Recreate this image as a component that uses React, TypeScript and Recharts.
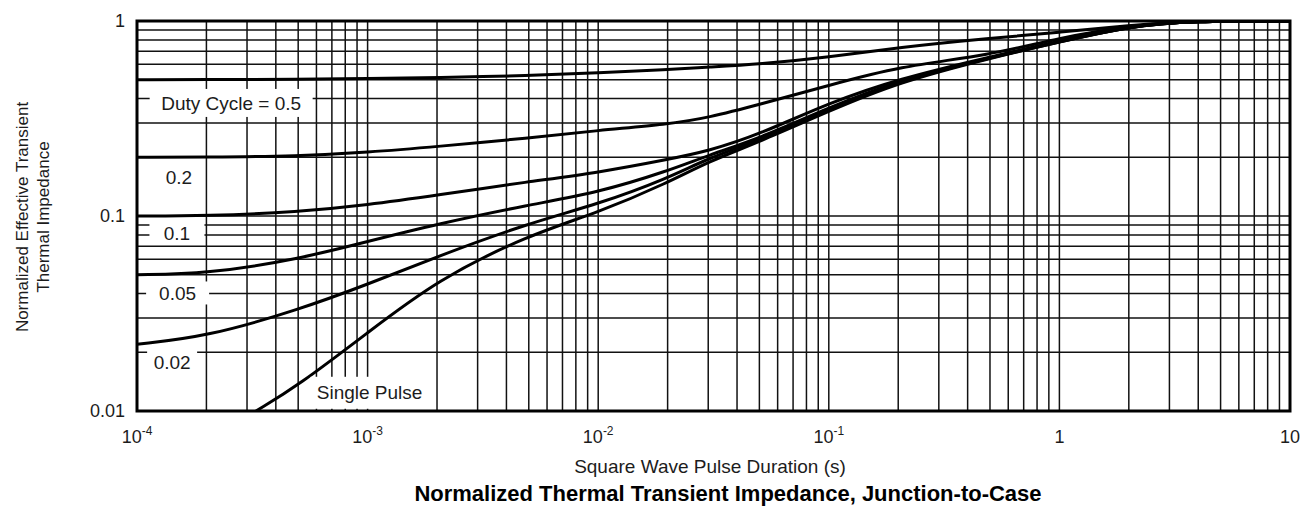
import { LineChart, Line, XAxis, YAxis, CartesianGrid, ReferenceArea, ReferenceDot } from 'recharts';

// pulse durations (s) where the duty-cycle curves were read
const T_DUTY = [1e-4, 2e-4, 5e-4, 1e-3, 2e-3, 5e-3, 1e-2, 2e-2, 3e-2, 5e-2, 1e-1, 2e-1, 5e-1, 1, 2, 3.8, 10];
const Z_D50 = [0.5, 0.5, 0.503, 0.507, 0.512, 0.525, 0.541, 0.564, 0.58, 0.6, 0.651, 0.732, 0.816, 0.875, 0.95, 1, 1];
const Z_D20 = [0.2, 0.2, 0.203, 0.212, 0.227, 0.251, 0.275, 0.295, 0.319, 0.373, 0.467, 0.584, 0.668, 0.82, 0.945, 1, 1];
const Z_D10 = [0.1, 0.1, 0.105, 0.114, 0.128, 0.15, 0.167, 0.195, 0.215, 0.262, 0.38, 0.505, 0.655, 0.79, 0.94, 1, 1];
const Z_D05 = [0.05, 0.0505, 0.06, 0.074, 0.091, 0.114, 0.132, 0.17, 0.205, 0.25, 0.36, 0.495, 0.65, 0.785, 0.94, 1, 1];
const Z_D02 = [0.022, 0.024, 0.033, 0.0446, 0.062, 0.092, 0.115, 0.156, 0.198, 0.245, 0.35, 0.49, 0.648, 0.78, 0.94, 1, 1];

const T_SINGLE = [3.28e-4, 5e-4, 1e-3, 2e-3, 5e-3, 1e-2, 2e-2, 3e-2, 5e-2, 1e-1, 2e-1, 5e-1, 1, 2, 3.8, 10];
const Z_SINGLE = [0.01, 0.0135, 0.0252, 0.047, 0.08, 0.104, 0.148, 0.19, 0.24, 0.345, 0.485, 0.645, 0.78, 0.94, 1, 1];

// log grid lines
const X_GRID = [
  1e-4, 2e-4, 3e-4, 4e-4, 5e-4, 6e-4, 7e-4, 8e-4, 9e-4,
  1e-3, 2e-3, 3e-3, 4e-3, 5e-3, 6e-3, 7e-3, 8e-3, 9e-3,
  1e-2, 2e-2, 3e-2, 4e-2, 5e-2, 6e-2, 7e-2, 8e-2, 9e-2,
  0.1, 0.2, 0.3, 0.4, 0.5, 0.6, 0.7, 0.8, 0.9,
  1, 2, 3, 4, 5, 6, 7, 8, 9, 10,
];
const Y_GRID = [
  0.01, 0.02, 0.03, 0.04, 0.05, 0.06, 0.07, 0.08, 0.09,
  0.1, 0.2, 0.3, 0.4, 0.5, 0.6, 0.7, 0.8, 0.9, 1,
];
const X_DECADES = [1e-4, 1e-3, 1e-2, 1e-1, 1, 10];
const X_BASES = ['10', '10', '10', '10', '1', '10'];
const X_EXPS = ['-4', '-3', '-2', '-1', '', ''];
const Y_DECADES = [0.01, 0.1, 1];
const Y_LABELS = ['0.01', '0.1', '1'];

const CURVE_LABELS = [
  { text: 'Duty Cycle = 0.5', t: 2.56e-4, z: 0.38, w: 163, h: 28 },
  { text: '0.2', t: 1.52e-4, z: 0.158, w: 46, h: 26 },
  { text: '0.1', t: 1.49e-4, z: 0.0818, w: 55, h: 22 },
  { text: '0.05', t: 1.5e-4, z: 0.0403, w: 63, h: 23 },
  { text: '0.02', t: 1.42e-4, z: 0.0178, w: 50, h: 26 },
  { text: 'Single Pulse', t: 1.02e-3, z: 0.0124, w: 118, h: 32 },
];

const FONT = '"Liberation Sans", Arial, Helvetica, sans-serif';
const INK = '#1c1c1c';

const toRows = (ts: number[], zs: number[]) => ts.map((t, i) => ({ t, z: zs[i] }));

const SERIES = [
  { name: 'D=0.5', data: toRows(T_DUTY, Z_D50) },
  { name: 'D=0.2', data: toRows(T_DUTY, Z_D20) },
  { name: 'D=0.1', data: toRows(T_DUTY, Z_D10) },
  { name: 'D=0.05', data: toRows(T_DUTY, Z_D05) },
  { name: 'D=0.02', data: toRows(T_DUTY, Z_D02) },
  { name: 'Single Pulse', data: toRows(T_SINGLE, Z_SINGLE) },
];

const findIdx = (list: number[], v: number) =>
  list.findIndex((d) => Math.abs(d - v) / d < 1e-6);

function XTick({ x, y, payload }: any) {
  const i = findIdx(X_DECADES, payload.value);
  if (i < 0) return <g />;
  return (
    <text x={x} y={y + 32} textAnchor="middle" fontFamily={FONT} fontSize={18} fill={INK}>
      <tspan>{X_BASES[i]}</tspan>
      {X_EXPS[i] && <tspan dy={-8} fontSize={12}>{X_EXPS[i]}</tspan>}
    </text>
  );
}

function YTick({ x, y, payload }: any) {
  const i = findIdx(Y_DECADES, payload.value);
  if (i < 0) return <g />;
  return (
    <text x={x} y={y} dy="0.35em" textAnchor="end" fontFamily={FONT} fontSize={18} fill={INK}>
      {Y_LABELS[i]}
    </text>
  );
}

function boxedLabel(text: string, w: number, h: number) {
  return (props: any) => {
    const vb = props.viewBox || {};
    const cx = vb.x + (vb.width || 0) / 2;
    const cy = vb.y + (vb.height || 0) / 2;
    return (
      <g>
        <rect x={cx - w / 2} y={cy - h / 2} width={w} height={h} fill="#fff" />
        <text x={cx} y={cy} dy="0.35em" textAnchor="middle" fontFamily={FONT} fontSize={19} fill={INK}>
          {text}
        </text>
      </g>
    );
  };
}

function YTitle() {
  return (
    <g fontFamily={FONT} fontSize={17} fill={INK}>
      <text transform="translate(22,217) rotate(-90)" textAnchor="middle" dy="0.35em">
        Normalized Effective Transient
      </text>
      <text transform="translate(43,217) rotate(-90)" textAnchor="middle" dy="0.35em">
        Thermal Impedance
      </text>
    </g>
  );
}

export default function App() {
  return (
    <div style={{ position: 'absolute', left: 0, top: 0, width: 1315, height: 506, background: '#fff' }}>
      <LineChart width={1315} height={506} margin={{ top: 21, right: 25, bottom: 0, left: 0 }}>
        <CartesianGrid stroke="#111" strokeWidth={1.5} horizontal vertical />
        <XAxis
          dataKey="t"
          type="number"
          scale="log"
          domain={[1e-4, 10]}
          ticks={X_GRID}
          interval={0}
          allowDataOverflow
          height={95}
          tickSize={0}
          tickMargin={0}
          axisLine={false}
          tickLine={false}
          tick={<XTick />}
        />
        <YAxis
          type="number"
          scale="log"
          domain={[0.01, 1]}
          ticks={Y_GRID}
          interval={0}
          allowDataOverflow
          width={137}
          tickSize={0}
          tickMargin={12}
          axisLine={false}
          tickLine={false}
          tick={<YTick />}
          label={{ content: () => <YTitle /> }}
        />
        {SERIES.map((s) => (
          <Line
            key={s.name}
            name={s.name}
            data={s.data}
            dataKey="z"
            type="basis"
            stroke="#000"
            strokeWidth={3}
            dot={false}
            activeDot={false}
            isAnimationActive={false}
          />
        ))}
        <ReferenceArea x1={1e-4} x2={10} y1={0.01} y2={1} fill="none" stroke="#000" strokeWidth={3} ifOverflow="visible" />
        {CURVE_LABELS.map((l) => (
          <ReferenceDot
            key={l.text}
            x={l.t}
            y={l.z}
            r={1}
            fill="none"
            stroke="none"
            label={boxedLabel(l.text, l.w, l.h)}
          />
        ))}
      </LineChart>
      <div
        style={{
          position: 'absolute', left: 0, width: 1420, top: 456, textAlign: 'center',
          fontFamily: FONT, fontSize: 19, color: INK,
        }}
      >
        Square Wave Pulse Duration (s)
      </div>
      <div
        style={{
          position: 'absolute', left: 0, width: 1456, top: 481, textAlign: 'center',
          fontFamily: FONT, fontSize: 22, fontWeight: 700, color: '#000',
        }}
      >
        Normalized Thermal Transient Impedance, Junction-to-Case
      </div>
    </div>
  );
}
